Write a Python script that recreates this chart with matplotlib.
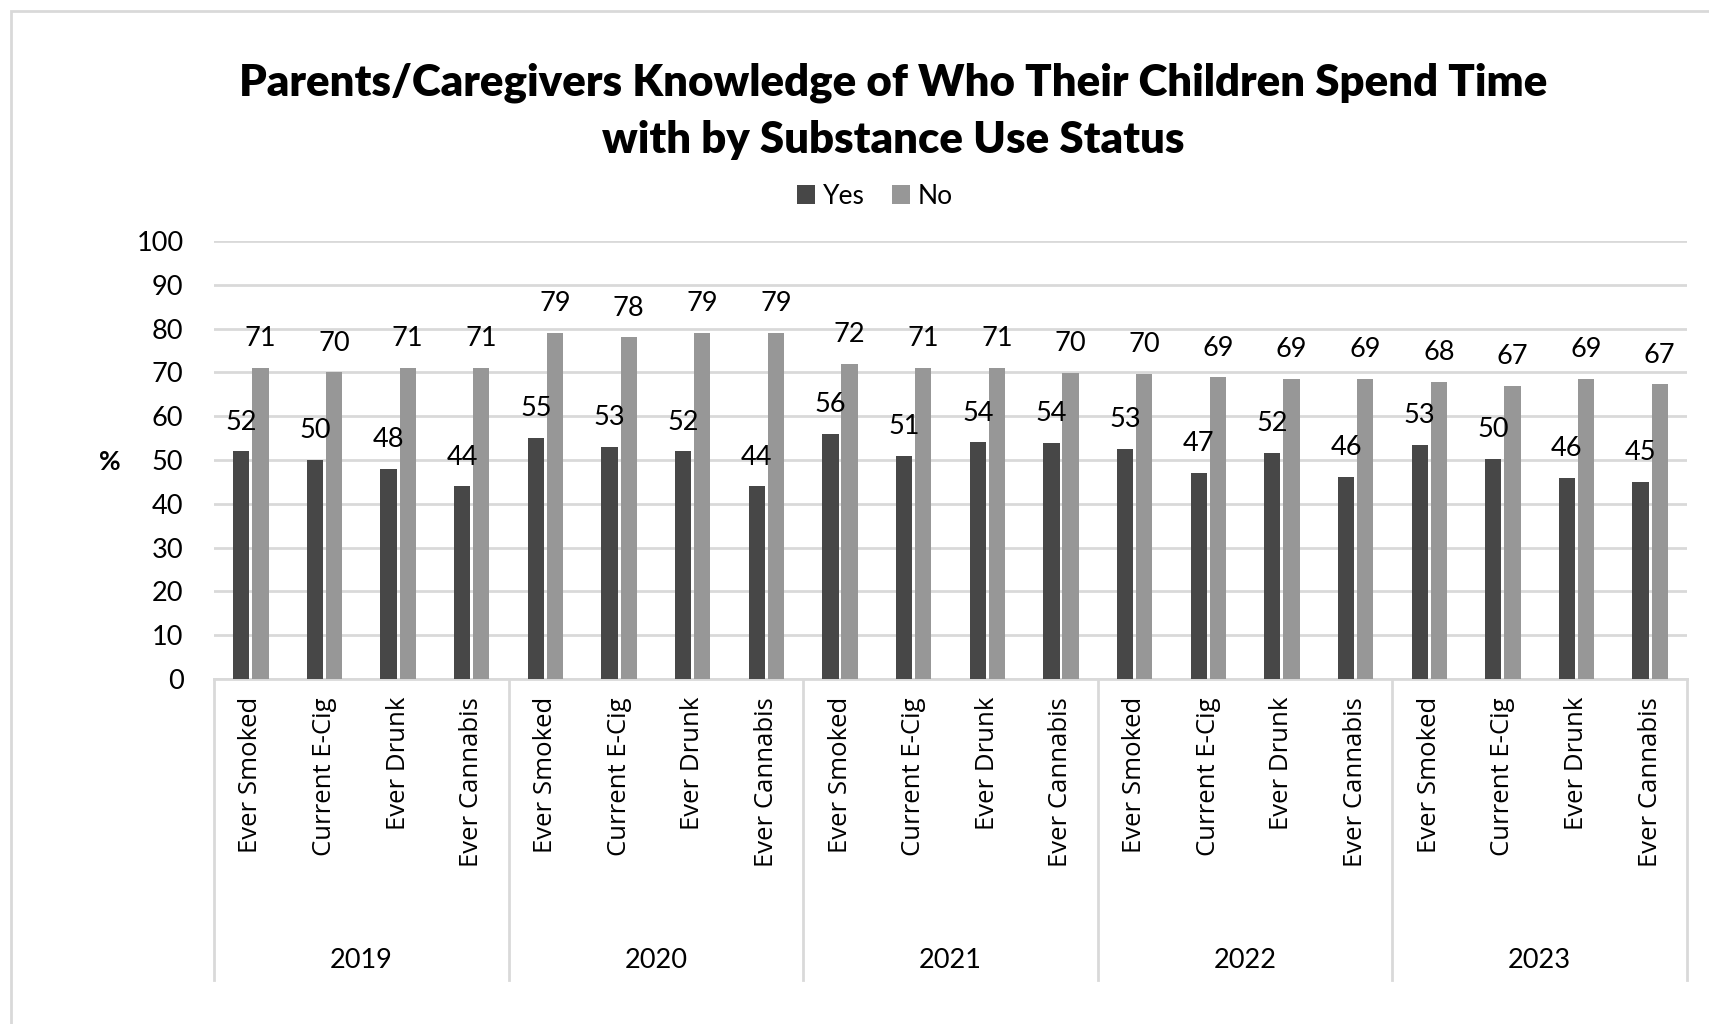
import matplotlib.pyplot as plt
import numpy as np
from matplotlib.patches import Rectangle
from matplotlib.lines import Line2D

years = ["2019", "2020", "2021", "2022", "2023"]
measures = ["Ever Smoked", "Current E-Cig", "Ever Drunk", "Ever Cannabis"]
yes_vals = [52, 50, 48, 44,
            55, 53, 52, 44,
            56, 51, 54, 53.9,
            52.6, 47.1, 51.6, 46.2,
            53.4, 50.2, 45.9, 45.0]
no_vals = [71, 70, 71, 71,
           79, 78, 79, 79,
           72, 71, 71, 69.9,
           69.6, 68.9, 68.6, 68.6,
           67.8, 66.9, 68.6, 67.3]

c_yes = "#474747"
c_no = "#979797"
grid_c = "#d9d9d9"
num_font = "Lato"
lab_font = "Open Sans"

fig = plt.figure(figsize=(17.09, 10.24), dpi=100)
ax = fig.add_axes([214 / 1709, 345 / 1024, 1473 / 1709, 438 / 1024])

n = len(yes_vals)
x = np.arange(n)
w = 0.22
off = 0.13
b1 = ax.bar(x - off, yes_vals, w, color=c_yes, zorder=3)
b2 = ax.bar(x + off, no_vals, w, color=c_no, zorder=3)
for bars, vals in [(b1, yes_vals), (b2, no_vals)]:
    for b, v in zip(bars, vals):
        ax.annotate(f"{v:.0f}", (b.get_x() + b.get_width() / 2, v),
                    xytext=(0, 12), textcoords="offset points",
                    ha="center", va="bottom", fontsize=19.5, family=num_font)

ax.set_xlim(-0.5, n - 0.5)
ax.set_ylim(0, 100)
ax.set_yticks(range(0, 101, 10))
ax.tick_params(axis="y", length=0, labelsize=19.5, pad=22)
for t in ax.get_yticklabels():
    t.set_family(num_font)
ax.yaxis.grid(True, color=grid_c, linewidth=2, zorder=0)
ax.set_axisbelow(True)
for s in ["top", "right", "left"]:
    ax.spines[s].set_visible(False)
ax.spines["bottom"].set_color(grid_c)
ax.spines["bottom"].set_linewidth(2)
ax.set_xticks(x)
ax.set_xticklabels(measures * len(years), rotation=90, fontsize=18.5, family=lab_font, va="top")
ax.tick_params(axis="x", length=0, pad=13)

# group separators and year labels
trans = ax.get_xaxis_transform()
y_bot = -(980 - 679) / 438
for g in range(len(years) + 1):
    ax.add_line(Line2D([g * 4 - 0.5] * 2, [0, y_bot], transform=trans,
                       color=grid_c, lw=2, clip_on=False))
for g, yr in enumerate(years):
    ax.text(g * 4 + 1.5, -(961 - 679) / 438, yr, transform=trans, ha="center",
            va="center", fontsize=19.5, family=num_font)

fig.text(110 / 1709, 1 - 462 / 1024, "%", ha="center", va="center",
         fontsize=19, fontweight="bold", family=num_font)

fig.text(893 / 1709, 1 - 111 / 1024,
         "Parents/Caregivers Knowledge of Who Their Children Spend Time\nwith by Substance Use Status",
         ha="center", va="center", fontsize=31.5, fontweight="heavy", family=num_font,
         linespacing=1.5)

leg = fig.legend([b1, b2], ["Yes", "No"], loc="center", bbox_to_anchor=(875 / 1709, 1 - 196 / 1024),
                 ncol=2, frameon=False, prop={"family": num_font, "size": 19},
                 handlelength=0.7, handleheight=0.7, handletextpad=0.3, columnspacing=1.0)

fig.patches.append(Rectangle((11 / 1709, -0.1), 1.2, 1 - 11 / 1024 + 0.1, transform=fig.transFigure,
                             fill=False, edgecolor=grid_c, lw=2))

fig.savefig("out.png", dpi=100)
